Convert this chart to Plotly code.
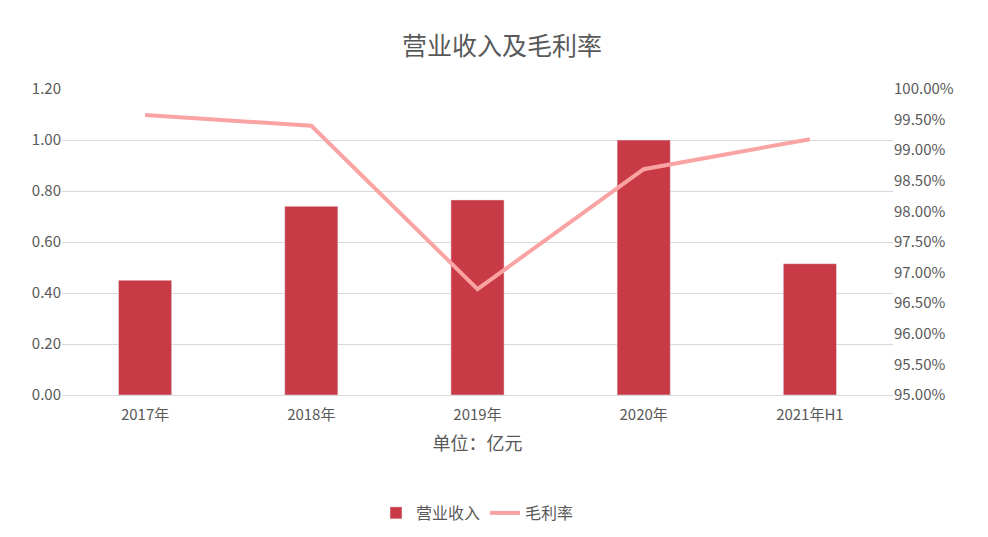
import plotly.graph_objects as go

categories = ["2017年", "2018年", "2019年", "2020年", "2021年H1"]
revenue = [0.45, 0.74, 0.765, 1.00, 0.515]
gross_margin = [0.99575, 0.9940, 0.9673, 0.9869, 0.9918]

font = "Noto Sans CJK SC"
grey = "#595959"

fig = go.Figure()
fig.add_trace(go.Bar(x=categories, y=revenue, name="营业收入",
                     marker_color="#C93A47", width=0.32))
fig.add_trace(go.Scatter(x=categories, y=gross_margin, name="毛利率", yaxis="y2",
                         mode="lines", line=dict(color="#F9A3A3", width=4)))

fig.update_layout(
    width=988, height=537,
    margin=dict(l=54, r=103, t=81, b=150),
    plot_bgcolor="white", paper_bgcolor="white",
    font=dict(family=font, color=grey, size=15),
    title=dict(text="营业收入及毛利率", x=0.5, xanchor="center", y=0.945,
               font=dict(size=25, color=grey)),
    xaxis=dict(title=dict(text="单位：亿元", font=dict(size=18, color=grey), standoff=14),
               showline=True, linecolor="#D9D9D9", ticks="outside", ticklen=6,
               tickcolor="white", tickfont=dict(size=15, color=grey)),
    yaxis=dict(range=[0, 1.2], dtick=0.2, tickformat=".2f", gridcolor="#D9D9D9",
               zeroline=False, tickfont=dict(size=15, color=grey)),
    yaxis2=dict(range=[0.95, 1.0], dtick=0.005, tickformat=".2%", overlaying="y",
                side="right", showgrid=False, zeroline=False,
                tickfont=dict(size=15, color=grey)),
    legend=dict(orientation="h", x=0.5, xanchor="center", y=-0.33, yanchor="top",
                font=dict(size=16, color=grey)),
    bargap=0.5,
)

fig.write_html("out.html")
